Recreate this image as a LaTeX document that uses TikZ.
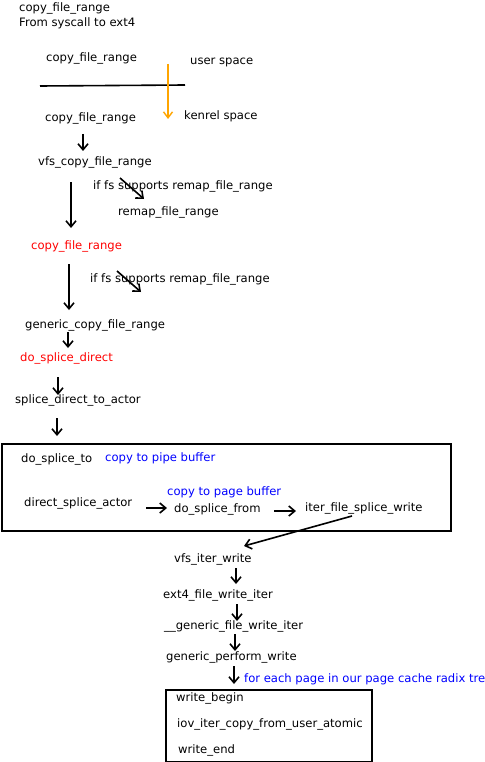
\documentclass[tikz,border=0pt]{standalone}
\usepackage{fontspec}
\setmainfont{DejaVu Sans}
\usetikzlibrary{arrows.meta}
\definecolor{myblue}{RGB}{0,0,255}
\definecolor{myred}{RGB}{255,0,0}
\definecolor{myorange}{RGB}{255,165,0}
\begin{document}
\begin{tikzpicture}[x=1pt,y=-1pt,
  lbl/.style={anchor=west,inner sep=0pt,font=\fontsize{11.6}{14}\selectfont},
  redlbl/.style={lbl,text=myred},
  bluelbl/.style={lbl,text=myblue},
  flow/.style={line width=1.6pt,-{Straight Barb[length=6pt,width=10pt,line width=1.6pt]}},
  orflow/.style={line width=1.4pt,draw=myorange,-{Straight Barb[length=6pt,width=9pt,line width=1.4pt]}},
  frame/.style={draw,line width=2pt}]
\useasboundingbox (0,0) rectangle (484,762);
\fill[white] (0,0) rectangle (484,762);
% header
\node[lbl] (t1) at (19,8) {copy\_file\_range};
\node[lbl] (t2) at (19,23) {From syscall to ext4};
\node[lbl] (us) at (46,58) {copy\_file\_range};
\node[lbl] (usl) at (190,62) {user space};
\coordinate (l1) at (40,86); \coordinate (l2) at (185,85);
\draw[line width=1.6pt] (l1) -- (l2);
\coordinate (o1) at (168,64); \coordinate (o2) at (168,119);
\draw[orflow] (o1) -- (o2);
\node[lbl] (ks) at (45,118) {copy\_file\_range};
\node[lbl] (ksl) at (184,116) {kenrel space};
\coordinate (a1s) at (83,134); \coordinate (a1e) at (83,151);
\draw[flow] (a1s) -- (a1e);
\node[lbl] (vfs) at (38,162) {vfs\_copy\_file\_range};
\coordinate (a2s) at (71,182); \coordinate (a2e) at (71,228);
\draw[flow] (a2s) -- (a2e);
\node[lbl] (if1) at (93,186) {if fs supports remap\_file\_range};
\coordinate (d1s) at (120,178); \coordinate (d1e) at (144,199);
\draw[flow] (d1s) -- (d1e);
\node[lbl] (remap) at (118,212) {remap\_file\_range};
\node[redlbl] (cfr) at (31,246) {copy\_file\_range};
\coordinate (a3s) at (69,264); \coordinate (a3e) at (69,310);
\draw[flow] (a3s) -- (a3e);
\node[lbl] (if2) at (90,279) {if fs supports remap\_file\_range};
\coordinate (d2s) at (117,271); \coordinate (d2e) at (141,292);
\draw[flow] (d2s) -- (d2e);
\node[lbl] (gcfr) at (25,325) {generic\_copy\_file\_range};
\coordinate (a4s) at (68,332); \coordinate (a4e) at (68,348);
\draw[flow] (a4s) -- (a4e);
\node[redlbl] (dsd) at (20,358) {do\_splice\_direct};
\coordinate (a5s) at (58,377); \coordinate (a5e) at (58,395);
\draw[flow] (a5s) -- (a5e);
\node[lbl] (sdta) at (15,400) {splice\_direct\_to\_actor};
\coordinate (a6s) at (57,418); \coordinate (a6e) at (57,436);
\draw[flow] (a6s) -- (a6e);
% splice box
\node[frame,minimum width=449pt,minimum height=87pt,anchor=north west,inner sep=0pt] (box1) at (1,443) {};
\node[lbl] (dst) at (21,459) {do\_splice\_to};
\node[bluelbl] (cpb) at (105,458) {copy to pipe buffer};
\node[lbl] (dsa) at (24,503) {direct\_splice\_actor};
\node[bluelbl] (cpgb) at (167,492) {copy to page buffer};
\node[lbl] (dsf) at (174,509) {do\_splice\_from};
\node[lbl] (ifsw) at (305,508) {iter\_file\_splice\_write};
\coordinate (h1s) at (146,508); \coordinate (h1e) at (167,508);
\draw[flow] (h1s) -- (h1e);
\coordinate (h2s) at (274,511); \coordinate (h2e) at (296,511);
\draw[flow] (h2s) -- (h2e);
\coordinate (g1s) at (352,516); \coordinate (g1e) at (244,546);
\draw[flow] (g1s) -- (g1e);
% ext4 chain
\node[lbl] (viw) at (174,559) {vfs\_iter\_write};
\coordinate (b1s) at (236,568); \coordinate (b1e) at (236,584);
\draw[flow] (b1s) -- (b1e);
\node[lbl] (efwi) at (163,595) {ext4\_file\_write\_iter};
\coordinate (b2s) at (237,604); \coordinate (b2e) at (237,621);
\draw[flow] (b2s) -- (b2e);
\node[lbl] (gfwi) at (164,626) {\_\_generic\_file\_write\_iter};
\coordinate (b3s) at (235,634); \coordinate (b3e) at (235,651);
\draw[flow] (b3s) -- (b3e);
\node[lbl] (gpw) at (166,657) {generic\_perform\_write};
\coordinate (b4s) at (234,666); \coordinate (b4e) at (234,684);
\draw[flow] (b4s) -- (b4e);
\node[bluelbl] (fep) at (244,679) {for each page in our page cache radix tree};
% write box
\node[frame,minimum width=206pt,minimum height=72pt,anchor=north west,inner sep=0pt] (box2) at (165,689) {};
\node[lbl] (wb) at (176,698) {write\_begin};
\node[lbl] (iov) at (177,724) {iov\_iter\_copy\_from\_user\_atomic};
\node[lbl] (we) at (178,750) {write\_end};
\end{tikzpicture}
\end{document}
